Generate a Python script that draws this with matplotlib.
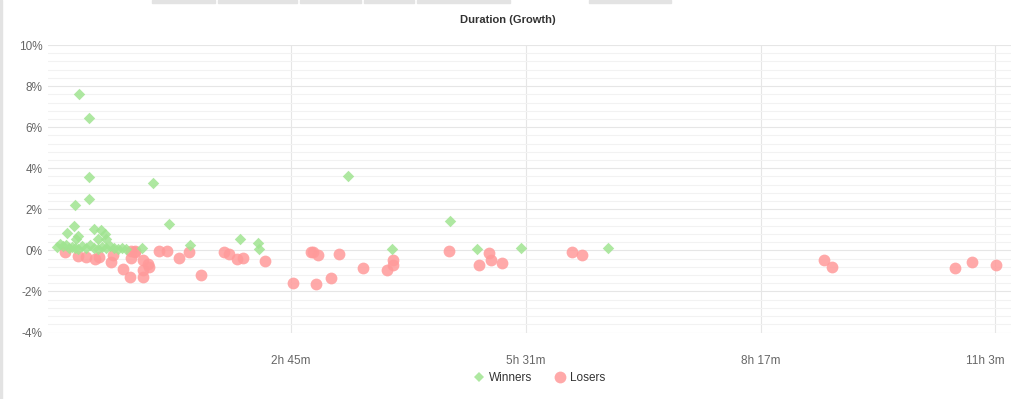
import matplotlib
matplotlib.use("Agg")
import matplotlib.pyplot as plt
from matplotlib.ticker import MultipleLocator, FixedLocator, FuncFormatter
from matplotlib.lines import Line2D
from matplotlib.patches import Rectangle

plt.rcParams['font.family'] = ['Liberation Sans', 'DejaVu Sans']

# duration in minutes, growth in percent
win_minutes = [16.1, 23.2, 23.2, 23.2, 13.1, 12.6, 7.6, 15.4, 14.3, 26.7,
               31.9, 34.3, 29.5, 35.5, 68.4, 79.7, 94.3, 60.9, 129.6, 142.5,
               143.2, 206.1, 237.1, 277.9, 297.2, 328.5, 389.7,
               0.4, 2.5, 4.6, 6.7, 8.8, 10.9, 13.1, 15.2, 18.0, 20.8,
               23.7, 26.5, 29.3, 32.1, 35.0, 37.8, 40.6, 43.4, 46.3, 49.1]
win_growth = [7.61, 6.45, 3.59, 2.48, 2.22, 1.21, 0.86, 0.69, 0.53, 1.02,
              0.97, 0.78, 0.57, 0.53, 3.29, 1.30, 0.28, 0.13, 0.57, 0.35,
              0.08, 3.61, 0.08, 1.42, 0.05, 0.13, 0.13,
              0.15, 0.30, 0.22, 0.28, 0.10, 0.18, 0.12, 0.08, 0.20, 0.10,
              0.25, 0.12, 0.08, 0.15, 0.10, 0.22, 0.12, 0.08, 0.10, 0.05]

lose_minutes = [6.0, 15.4, 21.3, 27.2, 30.0, 39.0, 40.1, 47.2, 51.9, 53.1,
                55.4, 52.6, 55.4, 61.3, 64.8, 65.3, 61.3, 61.3, 72.6, 78.2,
                86.5, 93.8, 102.5, 118.3, 121.8, 127.7, 131.9, 147.2, 167.2, 179.7,
                181.1, 184.9, 183.8, 194.3, 199.7, 216.7, 233.6, 237.9, 237.9, 277.4,
                298.6, 305.6, 307.3, 314.8, 363.8, 371.3, 542.2, 547.9, 634.5, 646.7,
                663.3]
lose_growth = [-0.08, -0.28, -0.33, -0.40, -0.34, -0.57, -0.21, -0.89, -1.30, -0.02,
               -0.01, -0.37, -0.08, -0.49, -0.65, -0.81, -0.97, -1.30, -0.01, -0.01,
               -0.37, -0.08, -1.18, -0.08, -0.19, -0.40, -0.35, -0.53, -1.57, -0.08,
               -0.07, -0.24, -1.65, -1.37, -0.19, -0.84, -0.97, -0.49, -0.73, -0.01,
               -0.73, -0.11, -0.49, -0.62, -0.08, -0.24, -0.49, -0.81, -0.86, -0.57,
               -0.69]

x_ticks = [165.75, 331.5, 497.25, 663.0]

green = '#a0e491'
red = '#ff9a9a'

W, H = 1013, 399
fig = plt.figure(figsize=(W / 100, H / 100), dpi=100)
ax = fig.add_axes([48 / W, 1 - 332.5 / H, (1011 - 48) / W, (332.5 - 45) / H])

ax.scatter(lose_minutes, lose_growth, s=72, marker='o', color=red,
           alpha=0.85, linewidths=0, zorder=3)
ax.scatter(win_minutes, win_growth, s=34, marker='D', color=green,
           alpha=0.85, linewidths=0, zorder=4)

ax.set_xlim(-5.7, 674)
ax.set_ylim(-4, 10)

ax.yaxis.set_major_locator(MultipleLocator(2))
ax.yaxis.set_minor_locator(MultipleLocator(0.4))
ax.yaxis.set_major_formatter(FuncFormatter(lambda v, p: '%d%%' % round(v)))
ax.xaxis.set_major_locator(FixedLocator(x_ticks))


def fmt_dur(v, p=None):
    m = int(v)
    return '%dh %dm' % (m // 60, m % 60)


# last label is pulled inside the plot edge, as in the original
ax.xaxis.set_major_formatter(FuncFormatter(
    lambda v, p: '' if v == x_ticks[-1] else fmt_dur(v)))
ax.annotate(fmt_dur(x_ticks[-1]), xy=(x_ticks[-1], 0), xycoords=('data', 'axes fraction'),
            xytext=(-7, -16.5), textcoords='offset points', ha='center', va='top',
            fontsize=8.5, color='#666666')

ax.grid(True, which='major', axis='both', color='#e6e6e6', linewidth=0.8)
ax.grid(True, which='minor', axis='y', color='#f2f2f2', linewidth=0.8)
ax.set_axisbelow(True)
for s in ax.spines.values():
    s.set_visible(False)
ax.tick_params(axis='both', which='both', length=0, colors='#666666', labelsize=8.5)
ax.tick_params(axis='x', pad=16)
ax.tick_params(axis='y', pad=4)

fig.text(508 / W, 1 - 20 / H, 'Duration (Growth)', ha='center', va='center',
         fontsize=8, fontweight='bold', color='#333333')

handles = [Line2D([], [], marker='D', linestyle='none', markersize=5.5,
                  markerfacecolor=green, markeredgewidth=0, alpha=0.85),
           Line2D([], [], marker='o', linestyle='none', markersize=8.5,
                  markerfacecolor=red, markeredgewidth=0, alpha=0.85)]
fig.legend(handles, ['Winners', 'Losers'], loc='center',
           bbox_to_anchor=(539 / W, 1 - 378 / H), ncol=2, frameon=False,
           fontsize=8.5, handlelength=1.0, handletextpad=0.4,
           columnspacing=1.8, labelcolor='#333333')

# page decorations: tab strip at top and left border
for x0, x1 in [(152, 215), (218, 297), (300, 361), (364, 414), (417, 510), (589, 671)]:
    fig.patches.append(Rectangle((x0 / W, 1 - 3 / H), (x1 - x0) / W, 3 / H,
                                 transform=fig.transFigure, color='#e3e3e3'))
fig.patches.append(Rectangle((0, 0), 1.5 / W, 1, transform=fig.transFigure,
                             color='#e3e3e3'))

fig.savefig('out.png', dpi=100)
